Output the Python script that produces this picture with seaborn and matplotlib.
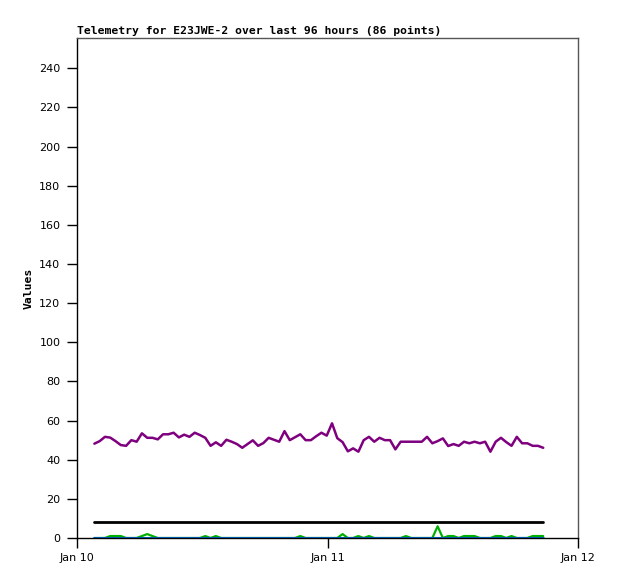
import pandas as pd
import matplotlib
matplotlib.use('Agg')
import matplotlib.pyplot as plt
import matplotlib.dates as mdates
import seaborn as sns

sns.set_style('white')
plt.rcParams['font.family'] = ['DejaVu Sans']
plt.rcParams['text.color'] = 'black'
plt.rcParams['axes.labelcolor'] = 'black'

# telemetry samples (86 points)
times = pd.date_range('2024-01-10 01:40', '2024-01-11 20:40', periods=86)

purple_vals = [48.2, 49.5, 51.7, 51.3, 49.5, 47.5, 47.1, 50.0, 49.2, 53.5,
               51.2, 51.2, 50.4, 53.0, 53.0, 53.8, 51.4, 52.8, 51.7, 53.8,
               52.6, 51.2, 47.1, 48.9, 47.1, 50.2, 49.2, 48.0, 46.1, 48.0,
               49.9, 47.1, 48.5, 51.2, 50.2, 49.2, 54.6, 50.0, 51.5, 53.0,
               50.0, 50.0, 52.0, 53.8, 52.3, 58.6, 51.0, 49.0, 44.3, 45.8,
               44.1, 50.0, 51.7, 49.2, 51.2, 50.0, 50.0, 45.3, 49.2, 49.2,
               49.2, 49.2, 49.2, 51.7, 48.4, 49.5, 50.9, 47.0, 48.0, 47.1,
               49.2, 48.4, 49.2, 48.4, 49.2, 44.1, 49.2, 51.2, 49.0, 47.1,
               51.7, 48.4, 48.4, 47.1, 47.1, 46.1]

green_vals = [0, 0, 0, 1, 1, 1, 0, 0, 0, 1,
              2, 1, 0, 0, 0, 0, 0, 0, 0, 0,
              0, 1, 0, 1, 0, 0, 0, 0, 0, 0,
              0, 0, 0, 0, 0, 0, 0, 0, 0, 1,
              0, 0, 0, 0, 0, 0, 0, 2, 0, 0,
              1, 0, 1, 0, 0, 0, 0, 0, 0, 1,
              0, 0, 0, 0, 0, 6, 0, 1, 1, 0,
              1, 1, 1, 0, 0, 0, 1, 1, 0, 1,
              0, 0, 0, 1, 1, 1]

black_vals = [8] * 86
blue_vals = [0] * 86

fig = plt.figure(figsize=(6.18, 5.79), dpi=100)
ax = fig.add_axes([0.1246, 0.0708, 0.8107, 0.8636])

sns.lineplot(x=times, y=purple_vals, ax=ax, color='#7f007f', linewidth=1.8)
sns.lineplot(x=times, y=black_vals, ax=ax, color='black', linewidth=2.0)
sns.lineplot(x=times, y=green_vals, ax=ax, color='#00b000', linewidth=1.6)
sns.lineplot(x=times, y=blue_vals, ax=ax, color='#0066cc', linewidth=2.2)

ax.set_xlim(pd.Timestamp('2024-01-10'), pd.Timestamp('2024-01-12'))
ax.set_ylim(0, 255.5)
ax.set_yticks(range(0, 241, 20))
ax.xaxis.set_major_locator(mdates.DayLocator())
ax.xaxis.set_major_formatter(mdates.DateFormatter('%b %d'))

ax.tick_params(axis='y', direction='out', length=7, width=1, pad=5,
               labelsize=8, colors='black', left=True)
ax.tick_params(axis='x', direction='out', length=7, width=1, pad=4,
               labelsize=8, colors='black', bottom=True)

for s in ['left', 'bottom']:
    ax.spines[s].set_color('black')
    ax.spines[s].set_linewidth(1)
for s in ['top', 'right']:
    ax.spines[s].set_color('#555555')
    ax.spines[s].set_linewidth(1)

ax.set_xlabel('')
ax.set_ylabel('Values', family='DejaVu Sans Mono', weight='bold', fontsize=8.2,
              color='black')
ax.yaxis.set_label_coords(-0.086, 0.5)
ax.set_title('Telemetry for E23JWE-2 over last 96 hours (86 points)',
             family='DejaVu Sans Mono', weight='bold', fontsize=8.2, loc='left',
             pad=3, color='black')

fig.savefig('out.png', dpi=100)
